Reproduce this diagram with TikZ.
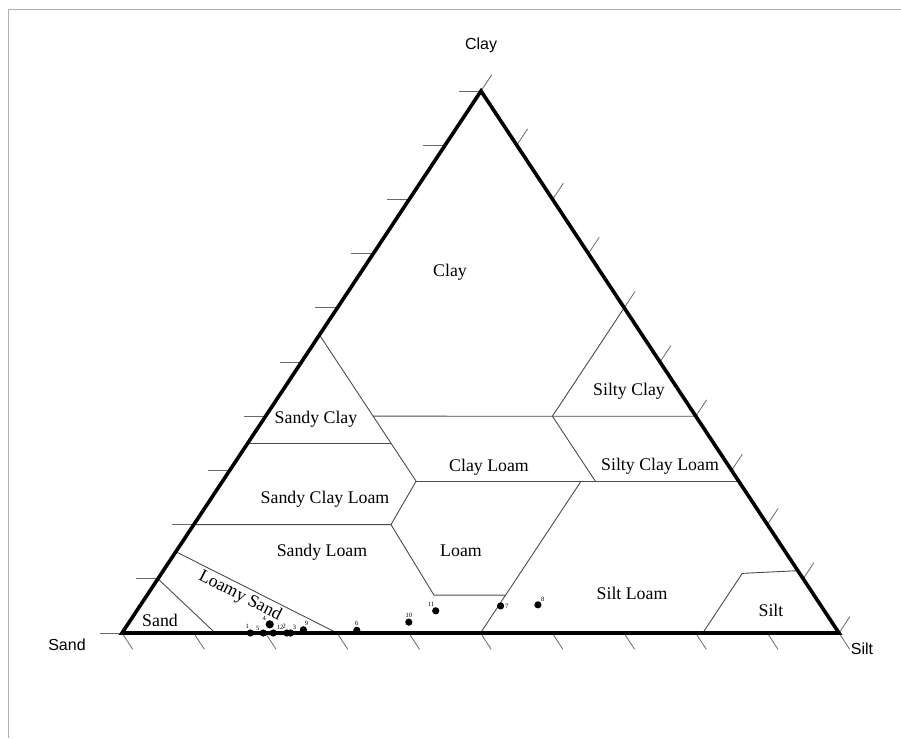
\documentclass[tikz,border=0pt]{standalone}
\usepackage{fontspec}
\setmainfont{Liberation Serif}
\newfontfamily\axisfont{Liberation Sans}
\definecolor{framegray}{RGB}{175,175,175}
\definecolor{linegray}{RGB}{75,75,75}
\definecolor{tickgray}{RGB}{105,105,105}
\tikzset{
    % outer triangle
    border/.style={line width=3.6pt, black},
    % boundaries between the texture classes
    classline/.style={line width=0.9pt, linegray},
    tickline/.style={line width=0.8pt, tickgray},
    classlabel/.style={font=\fontsize{17.8}{20}\selectfont, inner sep=0pt},
    axislabel/.style={font=\axisfont\fontsize{16}{18}\selectfont, inner sep=0pt},
    % samples
    sample/.style={circle, fill=black, minimum size=7.2pt, inner sep=0pt},
    samplelabel/.style={font=\fontsize{6.5}{7}\selectfont, inner sep=0.4pt, label distance=0pt},
}

\begin{document}
\begin{tikzpicture}[x=1pt,y=-1pt]
  \useasboundingbox (0,0) rectangle (901,738);
  % frame
  \draw[framegray,line width=1pt] (8,738) -- (8,10) -- (901,10);

  \coordinate (Sa) at (122,633);
  \coordinate (Cl) at (481,91);
  \coordinate (Si) at (839,633);

  % ticks every 10 % (weights as fractions)
  \foreach \c [evaluate=\c as \f using \c/100, evaluate=\c as \r using (100-\c)/100] in {0,10,...,100} {
    \draw[tickline] (barycentric cs:Sa=\r,Cl=\f,Si=0) -- ++(-22,0);
    \draw[tickline] (barycentric cs:Sa=0,Cl=\f,Si=\r) -- ++(10.8,-16.3);
    \draw[tickline] (barycentric cs:Sa=\r,Cl=0,Si=\f) -- ++(10.7,16.3);
  }

  % class boundaries (sand, clay, silt)
  \draw[classline] (barycentric cs:Sa=.90,Cl=.10,Si=0) -- (barycentric cs:Sa=.87,Cl=0,Si=.13);
  \draw[classline] (barycentric cs:Sa=.85,Cl=.15,Si=0) -- (barycentric cs:Sa=.70,Cl=0,Si=.30);
  \draw[classline] (barycentric cs:Sa=.80,Cl=.20,Si=0) -- (barycentric cs:Sa=.525,Cl=.20,Si=.275)
    -- (barycentric cs:Sa=.53,Cl=.07,Si=.40) -- (barycentric cs:Sa=.43,Cl=.07,Si=.50);
  \draw[classline] (barycentric cs:Sa=.65,Cl=.35,Si=0) -- (barycentric cs:Sa=.45,Cl=.35,Si=.20);
  \draw[classline] (barycentric cs:Sa=.45,Cl=.55,Si=0) -- (barycentric cs:Sa=.45,Cl=.28,Si=.27)
    -- (barycentric cs:Sa=.525,Cl=.20,Si=.275);
  \draw[classline] (barycentric cs:Sa=.45,Cl=.40,Si=.15) -- (barycentric cs:Sa=0,Cl=.40,Si=.60);
  \draw[classline] (barycentric cs:Sa=.20,Cl=.40,Si=.40) -- (barycentric cs:Sa=0,Cl=.60,Si=.40);
  \draw[classline] (barycentric cs:Sa=.20,Cl=.40,Si=.40) -- (barycentric cs:Sa=.20,Cl=.28,Si=.52);
  \draw[classline] (barycentric cs:Sa=.45,Cl=.28,Si=.27) -- (barycentric cs:Sa=0,Cl=.28,Si=.72);
  \draw[classline] (barycentric cs:Sa=.22,Cl=.28,Si=.50) -- (barycentric cs:Sa=.50,Cl=0,Si=.50);
  \draw[classline] (barycentric cs:Sa=.19,Cl=0,Si=.81) -- (barycentric cs:Sa=.08,Cl=.11,Si=.81)
    -- (barycentric cs:Sa=0,Cl=.115,Si=.885);

  \draw[border] (Sa) -- (Cl) -- (Si) -- cycle;

  % class names
  \node[classlabel] (clay)   at (450,272) {Clay};
  \node[classlabel] (sicl)   at (629,391) {Silty Clay};
  \node[classlabel] (sacl)   at (316,419) {Sandy Clay};
  \node[classlabel] (clo)    at (489,467) {Clay Loam};
  \node[classlabel] (siclo)  at (660,466) {Silty Clay Loam};
  \node[classlabel] (saclo)  at (325,499) {Sandy Clay Loam};
  \node[classlabel] (salo)   at (322,552) {Sandy Loam};
  \node[classlabel] (loam)   at (461,551) {Loam};
  \node[classlabel] (silo)   at (632,593) {Silt Loam};
  \node[classlabel] (silt)   at (771,610) {Silt};
  \node[classlabel] (sand)   at (160,620) {Sand};
  \node[classlabel,rotate=-27] (losa) at (240,596) {Loamy Sand};

  % axis names
  \node[axislabel] (axcl) at (481,45)  {Clay};
  \node[axislabel] (axsa) at (67,645)  {Sand};
  \node[axislabel] (axsi) at (862,649) {Silt};

  % samples: sand/clay/silt/number/label angle
  \foreach \sa/\cl/\si/\n/\ang in {.821/0/.179/1/105, .803/0/.197/5/150,
      .789/0/.211/12/40, .770/0/.230/2/95, .765/0/.235/3/60, .744/.006/.250/9/75,
      .670/.005/.325/6/90, .590/.020/.390/10/90, .542/.041/.417/11/100,
      .447/.050/.503/7/0, .394/.052/.554/8/45}
    \node[sample,label={[samplelabel]\ang:\n}] (s\n) at (barycentric cs:Sa=\sa,Cl=\cl,Si=\si) {};
  \node[sample,minimum size=8.2pt,label={[samplelabel]140:4}] (s4)
    at (barycentric cs:Sa=.786,Cl=.016,Si=.198) {};
\end{tikzpicture}
\end{document}
